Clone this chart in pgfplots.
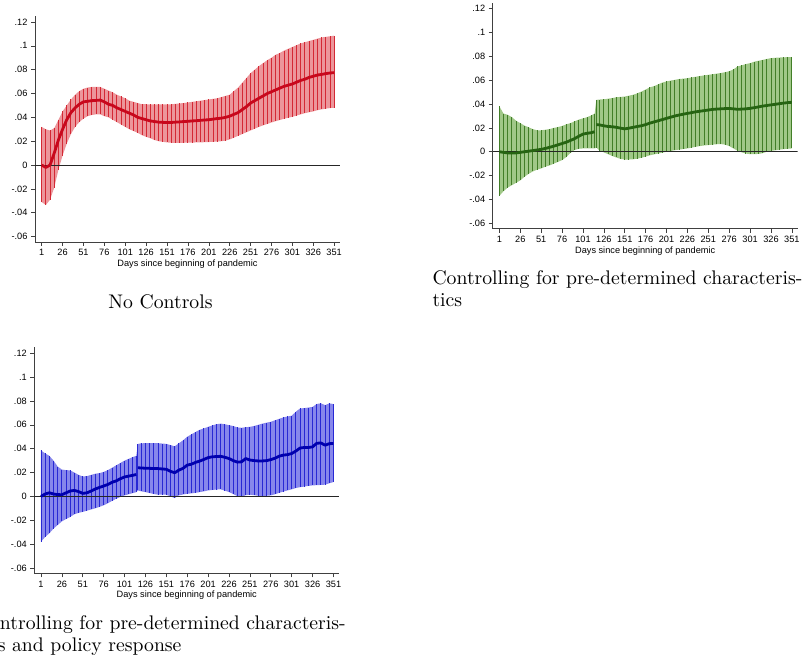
\documentclass[border=0pt]{standalone}
\usepackage{fontspec}
\usepackage{graphicx}
\usepackage{pgfplots}
\usepackage{pgfplotstable}
\pgfplotsset{compat=1.18}
\usepgfplotslibrary{fillbetween}
\newfontfamily\chartsans{Liberation Sans}

\definecolor{redest}{RGB}{200,8,28}
\definecolor{redspike}{RGB}{212,40,52}
\definecolor{redband}{RGB}{236,150,155}
\definecolor{grnest}{RGB}{38,100,18}
\definecolor{grnspike}{RGB}{66,126,40}
\definecolor{grnband}{RGB}{160,200,136}
\definecolor{bluest}{RGB}{0,0,175}
\definecolor{bluspike}{RGB}{40,40,212}
\definecolor{bluband}{RGB}{135,135,235}

% No controls
\pgfplotstableread{
d est lo hi
1 0.000 -0.031 0.032
6 -0.002 -0.0335 0.030
11 0.000 -0.029 0.029
16 0.010 -0.019 0.031
21 0.021 -0.004 0.038
26 0.030 0.008 0.045
31 0.038 0.018 0.050
36 0.044 0.026 0.055
41 0.048 0.032 0.059
46 0.051 0.036 0.062
51 0.053 0.039 0.064
56 0.0535 0.041 0.065
61 0.054 0.042 0.0655
66 0.0542 0.0425 0.0655
71 0.0545 0.0425 0.0655
76 0.053 0.041 0.064
81 0.051 0.040 0.0625
86 0.050 0.038 0.061
91 0.048 0.036 0.059
96 0.0465 0.034 0.0575
101 0.045 0.032 0.056
106 0.0435 0.030 0.054
111 0.042 0.0285 0.053
116 0.040 0.027 0.052
121 0.039 0.025 0.051
126 0.038 0.0237 0.051
131 0.037 0.0225 0.0508
136 0.0365 0.021 0.0508
141 0.036 0.020 0.0508
146 0.0358 0.0195 0.0508
151 0.0357 0.019 0.0508
156 0.0357 0.0187 0.051
161 0.036 0.0187 0.0513
166 0.0362 0.0187 0.0517
171 0.0365 0.0187 0.052
176 0.0367 0.0188 0.0525
181 0.037 0.0188 0.053
186 0.0372 0.019 0.0535
191 0.0375 0.019 0.054
196 0.0378 0.0192 0.0545
201 0.038 0.0193 0.055
206 0.0385 0.0195 0.0555
211 0.039 0.0197 0.056
216 0.0393 0.020 0.057
221 0.040 0.0205 0.058
226 0.041 0.0215 0.059
231 0.0425 0.023 0.062
236 0.044 0.0245 0.065
241 0.0465 0.026 0.069
246 0.049 0.0275 0.073
251 0.052 0.029 0.077
256 0.054 0.0305 0.080
261 0.056 0.032 0.083
266 0.058 0.0333 0.0855
271 0.060 0.0345 0.088
276 0.0615 0.0357 0.090
281 0.063 0.0368 0.0925
286 0.0645 0.0378 0.094
291 0.066 0.0388 0.096
296 0.067 0.0397 0.0975
301 0.068 0.0405 0.099
306 0.0695 0.0415 0.1005
311 0.071 0.0425 0.102
316 0.072 0.0435 0.103
321 0.0735 0.0443 0.104
326 0.0745 0.045 0.105
331 0.0755 0.046 0.106
336 0.076 0.0467 0.107
341 0.0767 0.0473 0.1075
346 0.0772 0.0478 0.108
351 0.0775 0.048 0.1085
}\tabnone

% Pre-determined characteristics
\pgfplotstableread{
d est lo hi
1 0.000 -0.037 0.038
6 -0.0005 -0.033 0.032
11 -0.001 -0.030 0.031
16 -0.001 -0.028 0.029
21 -0.001 -0.026 0.026
26 -0.0005 -0.024 0.024
31 0.000 -0.021 0.022
36 0.0005 -0.0185 0.0205
41 0.001 -0.0165 0.019
46 0.0015 -0.015 0.018
51 0.002 -0.014 0.018
56 0.0028 -0.0125 0.0185
61 0.0037 -0.0115 0.019
66 0.0047 -0.010 0.020
71 0.0058 -0.0085 0.0207
76 0.0069 -0.007 0.0216
81 0.008 -0.0045 0.023
86 0.0095 -0.001 0.024
91 0.011 0.0015 0.0255
96 0.013 0.0025 0.027
101 0.0148 0.0028 0.028
106 0.0155 0.0028 0.029
111 0.016 0.0028 0.0305
115 0.0168 0.0028 0.032
117 0.0228 0.0035 0.0435
121 0.0225 0.001 0.0438
126 0.0218 -0.0005 0.044
131 0.0212 -0.002 0.0445
136 0.021 -0.0035 0.045
141 0.0205 -0.0048 0.0457
146 0.0198 -0.006 0.046
151 0.0192 -0.0065 0.0463
156 0.0198 -0.0065 0.047
161 0.0205 -0.0063 0.0478
166 0.0212 -0.0058 0.049
171 0.0218 -0.005 0.0505
176 0.0228 -0.004 0.0522
181 0.024 -0.003 0.054
186 0.025 -0.0022 0.055
191 0.026 -0.0015 0.0565
196 0.027 -0.0007 0.058
201 0.028 0.000 0.059
206 0.029 0.0007 0.0597
211 0.030 0.0013 0.0603
216 0.0308 0.0018 0.061
221 0.0315 0.0023 0.0613
226 0.0322 0.0028 0.0617
231 0.0328 0.0035 0.0623
236 0.0335 0.0042 0.0629
241 0.034 0.0048 0.0635
246 0.0345 0.0053 0.064
251 0.035 0.0056 0.0645
256 0.0355 0.006 0.065
261 0.0358 0.0063 0.0655
266 0.036 0.0065 0.066
271 0.0362 0.006 0.0667
276 0.0363 0.0048 0.0675
281 0.036 0.0028 0.069
286 0.0356 0.001 0.0715
291 0.0358 -0.0005 0.0725
296 0.036 -0.0015 0.0735
301 0.0364 -0.002 0.0743
306 0.037 -0.002 0.0755
311 0.0376 -0.0018 0.0763
316 0.0383 -0.0012 0.077
321 0.0388 0.000 0.0778
326 0.0393 0.0008 0.0785
331 0.0398 0.0012 0.0788
336 0.0403 0.0018 0.079
341 0.0408 0.0022 0.0792
346 0.0412 0.0025 0.0793
351 0.0415 0.0028 0.0794
}\tabchar

% Pre-determined characteristics and policy response
\pgfplotstableread{
d est lo hi
1 0.000 -0.038 0.0385
6 0.002 -0.034 0.036
11 0.003 -0.031 0.034
16 0.002 -0.027 0.030
21 0.0015 -0.024 0.025
26 0.0014 -0.021 0.0225
31 0.003 -0.019 0.022
36 0.0045 -0.0172 0.0218
41 0.005 -0.015 0.020
46 0.004 -0.0138 0.018
51 0.0025 -0.013 0.0167
56 0.003 -0.012 0.017
61 0.0045 -0.011 0.018
66 0.0062 -0.010 0.019
71 0.0075 -0.0088 0.0195
76 0.0087 -0.0075 0.0205
81 0.010 -0.0058 0.022
86 0.0118 -0.0038 0.024
91 0.013 -0.002 0.026
96 0.0148 -0.0005 0.028
101 0.0163 0.0008 0.030
106 0.017 0.0018 0.0315
111 0.0177 0.0028 0.033
115 0.0183 0.0035 0.034
117 0.024 0.005 0.044
121 0.0238 0.0042 0.0445
126 0.0236 0.0036 0.0446
131 0.0235 0.0028 0.0446
136 0.0234 0.002 0.0446
141 0.0233 0.0014 0.0446
146 0.023 0.0014 0.0443
151 0.0227 0.0014 0.044
156 0.021 0.000 0.043
161 0.0198 -0.0014 0.042
166 0.022 0.0008 0.0445
171 0.0235 0.0016 0.047
176 0.0262 0.0022 0.050
181 0.027 0.0025 0.052
186 0.0285 0.003 0.054
191 0.0296 0.0036 0.0558
196 0.031 0.0042 0.057
201 0.0325 0.005 0.0583
206 0.0332 0.0054 0.0595
211 0.0334 0.0057 0.0605
216 0.0336 0.0059 0.061
221 0.0328 0.0048 0.0605
226 0.0317 0.0036 0.0597
231 0.030 0.002 0.059
236 0.0287 0.0002 0.0578
241 0.029 -0.0005 0.0575
246 0.0317 0.001 0.058
251 0.0305 0.0014 0.0583
256 0.030 0.001 0.059
261 0.0297 0.0005 0.060
266 0.0297 0.0003 0.061
271 0.030 0.0005 0.0618
276 0.0308 0.0008 0.0625
281 0.032 0.0018 0.0638
286 0.0337 0.003 0.065
291 0.0346 0.004 0.0662
296 0.035 0.005 0.067
301 0.0359 0.0059 0.0676
306 0.038 0.007 0.071
311 0.0405 0.0077 0.0737
316 0.041 0.0082 0.074
321 0.041 0.0088 0.0745
326 0.0415 0.0092 0.075
331 0.0445 0.0094 0.0775
336 0.0448 0.0096 0.078
341 0.0429 0.0098 0.0765
346 0.0442 0.011 0.078
351 0.0443 0.012 0.0774
}\tabpolicy

\pgfplotsset{
  panel/.style={
    scale only axis, width=305pt, height=226pt,
    xmin=-7, xmax=358, ymin=-0.0645, ymax=0.125,
    axis x line*=bottom, axis y line*=left,
    axis line style={black!75, line width=0.6pt},
    tick style={black!75, line width=0.6pt},
    tick align=outside, major tick length=4pt,
    xtick={1,26,...,351},
    ytick={-0.06,-0.04,-0.02,0,0.02,0.04,0.06,0.08,0.1,0.12},
    yticklabels={-.06,-.04,-.02,0,.02,.04,.06,.08,.1,.12},
    /pgf/number format/assume math mode=true,
    tick label style={font=\chartsans\fontsize{9.2}{10}\selectfont},
    xlabel={Days since beginning of pandemic},
    label style={font=\chartsans\fontsize{9.2}{10}\selectfont},
    xlabel style={yshift=3pt},
  },
  estline/.style={color=#1, mark=none, solid, line width=2.8pt, line join=round},
}

% confidence band, spikes and zero line for one table
\newcommand{\ciplot}[3]{% table, band colour, spike colour
  \addplot[name path=upper, draw=none, mark=none, forget plot] table[x=d, y=hi] {#1};
  \addplot[name path=lower, draw=none, mark=none, forget plot] table[x=d, y=lo] {#1};
  \addplot[fill=#2, draw=none, forget plot] fill between[of=upper and lower];
  \addplot[draw=none, mark=none, forget plot,
    error bars/.cd, y dir=both, y explicit, error mark=none,
    error bar style={draw=#3, solid, line width=0.9pt}]
    table[x=d, y=est, y error plus expr=\thisrow{hi}-\thisrow{est},
          y error minus expr=\thisrow{est}-\thisrow{lo}] {#1};
  \addplot[draw=black!85, mark=none, line width=0.7pt, forget plot] coordinates {(-7,0) (358,0)};
}

\begin{document}
\begin{tikzpicture}[x=1pt, y=1pt]

\begin{axis}[panel, at={(35pt,419pt)}, anchor=south west]
  \ciplot{\tabnone}{redband}{redspike}
  \addplot[estline=redest] table[x=d, y=est] {\tabnone};
\end{axis}

\begin{axis}[panel, at={(492.7pt,432.3pt)}, anchor=south west]
  \ciplot{\tabchar}{grnband}{grnspike}
  \addplot[estline=grnest, restrict x to domain=1:115] table[x=d, y=est] {\tabchar};
  \addplot[estline=grnest, restrict x to domain=117:351] table[x=d, y=est] {\tabchar};
\end{axis}

\begin{axis}[panel, at={(34.3pt,87.7pt)}, anchor=south west]
  \ciplot{\tabpolicy}{bluband}{bluspike}
  \addplot[estline=bluest, restrict x to domain=1:115] table[x=d, y=est] {\tabpolicy};
  \addplot[estline=bluest, restrict x to domain=117:351] table[x=d, y=est] {\tabpolicy};
\end{axis}

% panel captions
\node[anchor=base] at (160.5,352) {\scalebox{1.97}{No Controls}};
\node[anchor=base west, inner sep=0pt] at (432.3,376) {\scalebox{1.97}{Controlling for pre-determined characteris-}};
\node[anchor=base west, inner sep=0pt] at (432.3,354.3) {\scalebox{1.97}{tics}};
\node[anchor=base west, inner sep=0pt] at (-24.3,31) {\scalebox{1.97}{Controlling for pre-determined characteris-}};
\node[anchor=base west, inner sep=0pt] at (-24.3,9.5) {\scalebox{1.97}{tics and policy response}};

\pgfresetboundingbox
\path[use as bounding box] (0,0) rectangle (808,661);
\end{tikzpicture}
\end{document}
